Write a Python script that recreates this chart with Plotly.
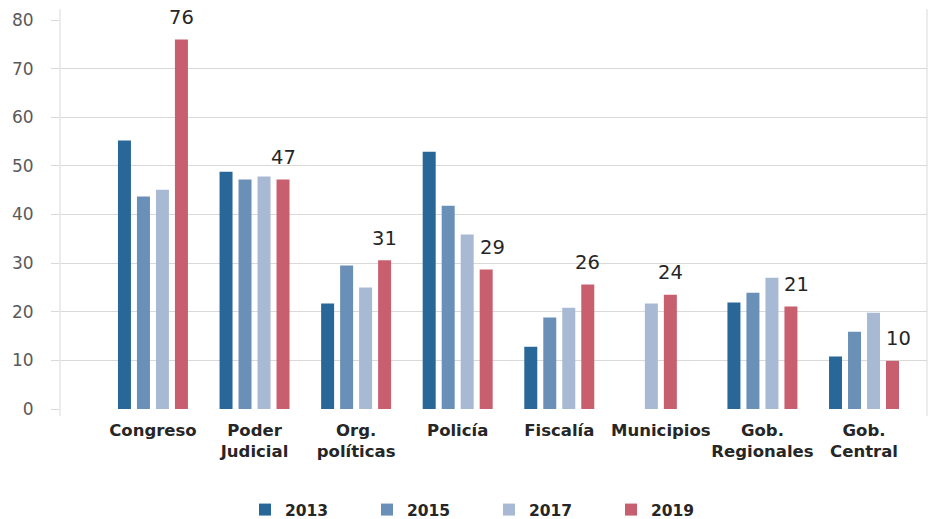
import plotly.graph_objects as go

categories = ["Congreso", "Poder<br>Judicial", "Org.<br>políticas", "Policía",
              "Fiscalía", "Municipios", "Gob.<br>Regionales", "Gob.<br>Central"]
years = ["2013", "2015", "2017", "2019"]
v2013 = [55.2, 48.8, 21.7, 52.9, 12.8, None, 21.9, 10.8]
v2015 = [43.7, 47.2, 29.5, 41.8, 18.8, None, 23.9, 15.9]
v2017 = [45.1, 47.8, 25.0, 35.9, 20.8, 21.7, 27.0, 19.8]
v2019 = [76.0, 47.2, 30.6, 28.7, 25.6, 23.5, 21.1, 9.9]
series = [v2013, v2015, v2017, v2019]
colors = ["#2A6799", "#6B90B8", "#A8BAD3", "#C85F6E"]

FONT = "DejaVu Sans"
bar_w = 13 / 101.6
step = 19 / 101.6

# per-bar offsets: the bars present in a category are centred on it
offsets = [[None] * len(categories) for _ in series]
for i in range(len(categories)):
    present = [s for s in range(len(series)) if series[s][i] is not None]
    n = len(present)
    for k, s in enumerate(present):
        c = (k - (n - 1) / 2) * step
        offsets[s][i] = c - bar_w / 2

fig = go.Figure()
xs = list(range(len(categories)))
for s, (name, vals, col) in enumerate(zip(years, series, colors)):
    fig.add_trace(go.Bar(
        x=xs, y=vals, name=name, marker=dict(color=col, line=dict(width=0)),
        width=[bar_w] * len(xs),
        offset=[o if o is not None else 0 for o in offsets[s]],
        hoverinfo="y",
    ))

annotations = []
for i, v in enumerate(v2019):
    cx = i + offsets[3][i] + bar_w / 2
    shift = 6 if (v2017[i] is not None and v2017[i] > v + 1) else 0
    annotations.append(dict(
        x=cx, y=v, xref="x", yref="y", text=str(int(v + 0.5)),
        showarrow=False, yanchor="middle", yshift=22, xshift=shift,
        font=dict(family=FONT, size=19.5, color="#262626"),
    ))

shapes = [
    dict(type="line", xref="paper", yref="paper", x0=0, x1=0, y0=-7 / 389, y1=1 + 11 / 389,
         line=dict(color="#D9D9D9", width=1), layer="below"),
    dict(type="line", xref="paper", yref="paper", x0=1, x1=1, y0=-7 / 389, y1=1 + 11 / 389,
         line=dict(color="#D9D9D9", width=1), layer="below"),
]

fig.update_layout(
    width=930, height=519,
    margin=dict(l=60, r=3, t=20, b=110),
    paper_bgcolor="white", plot_bgcolor="white",
    barmode="overlay",
    showlegend=True,
    legend=dict(orientation="h", x=(245 - 60) / 867, xanchor="left",
                yref="container", y=(519 - 510) / 519, yanchor="middle",
                entrywidth=77, entrywidthmode="pixels",
                font=dict(family=FONT, size=15.5, color="#262626", weight="bold"),
                itemclick=False, traceorder="normal"),
    annotations=annotations,
    shapes=shapes,
    font=dict(family=FONT),
)
fig.update_xaxes(
    range=[-0.915, 7.62], tickmode="array", tickvals=xs, ticktext=categories,
    showgrid=False, zeroline=False, showline=False, ticks="", tickangle=0,
    tickfont=dict(family=FONT, size=16.5, color="#262626", weight="bold"),
    ticklabelstandoff=9, fixedrange=True, automargin=False,
)
fig.update_yaxes(
    range=[0, 80], dtick=10, showgrid=True, gridcolor="#D9D9D9", gridwidth=1,
    zeroline=False, showline=False, ticks="outside", ticklen=8, tickcolor="#D9D9D9",
    tickfont=dict(family=FONT, size=17, color="#595959"),
    ticklabelstandoff=14, fixedrange=True, automargin=False,
)

fig.write_html("out.html", config={"displayModeBar": False},
               post_script="document.body.style.margin='0';document.body.style.overflow='hidden';")
